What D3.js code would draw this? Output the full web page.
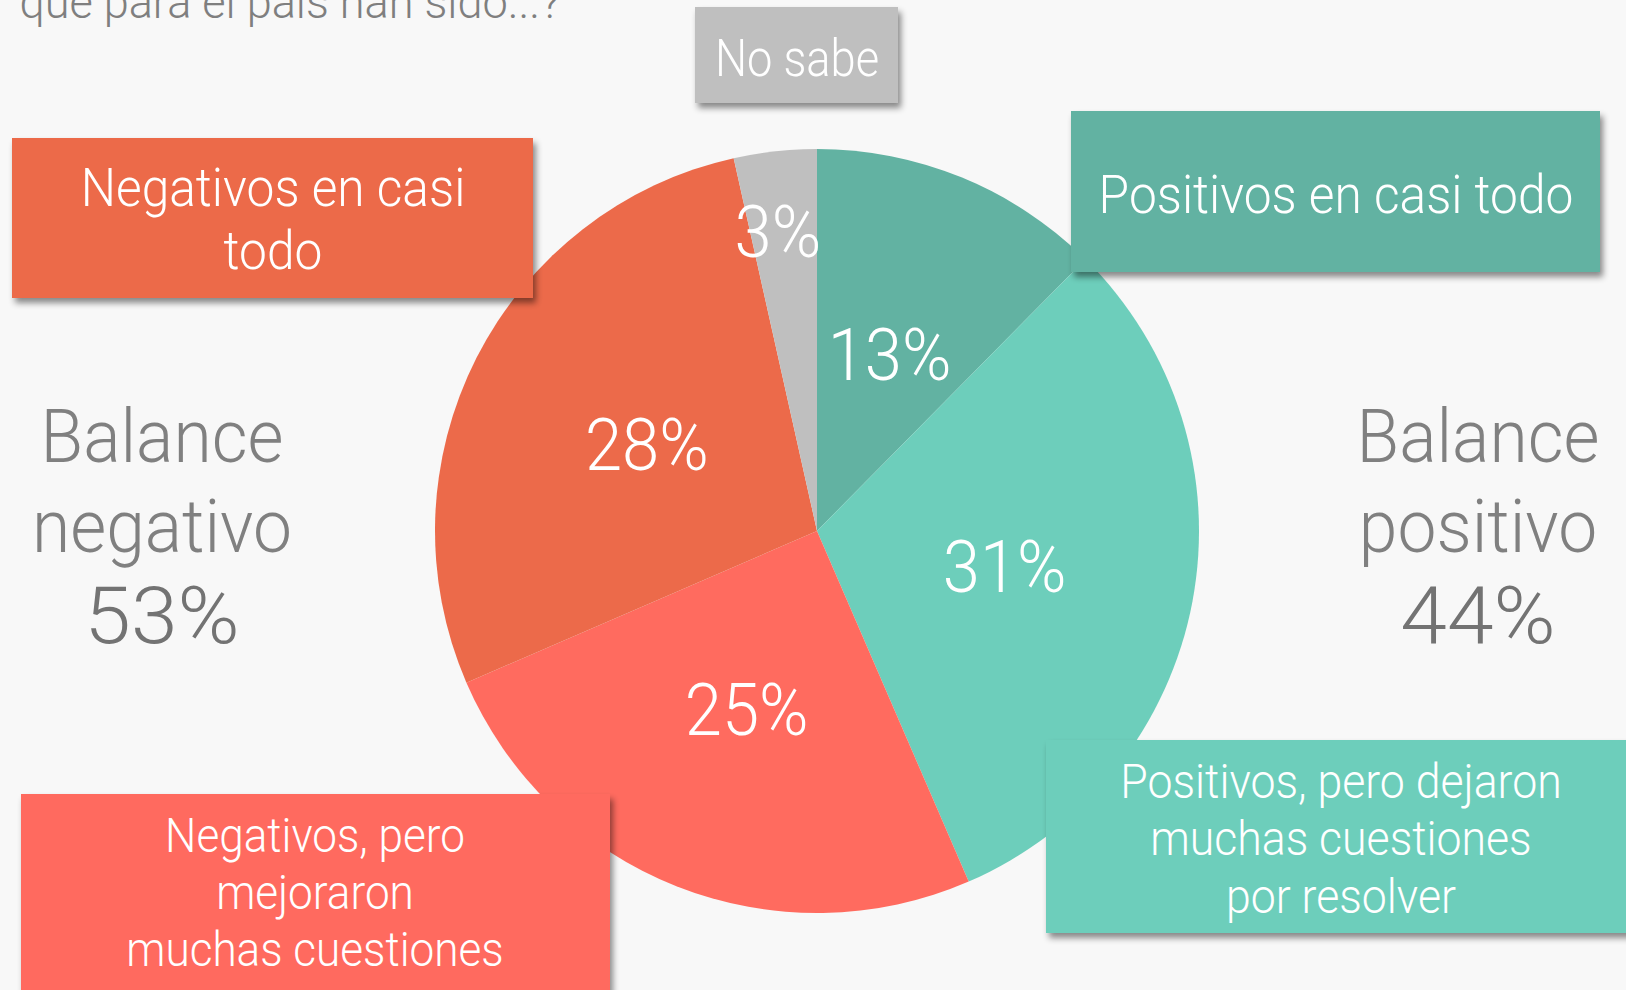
<!DOCTYPE html>
<html>
<head>
<meta charset="utf-8">
<script src="https://cdnjs.cloudflare.com/ajax/libs/d3/7.8.5/d3.min.js"></script>
<style>
  html, body { margin: 0; padding: 0; background: #f8f8f8; }
  svg { display: block; }
  text { font-family: Roboto, "Open Sans", sans-serif; font-weight: 300; }
</style>
</head>
<body>
<div id="chart"></div>
<script>
// data
var categories = ["Positivos en casi todo", "Positivos, pero dejaron muchas cuestiones por resolver",
  "Negativos, pero mejoraron muchas cuestiones", "Negativos en casi todo", "No sabe"];
var values = [12.4, 31.1, 25.0, 28.0, 3.5];
var pctLabels = ["13%", "31%", "25%", "28%", "3%"];
var balanceNames = [["Balance", "negativo"], ["Balance", "positivo"]];
var balanceValues = ["53%", "44%"];
var subtitle = "que para el país han sido...?";

var colors = ["#62b2a2", "#6dcebb", "#ff6b5f", "#ec6a4a", "#bfbfbf"];

var width = 1626, height = 990;
var cx = 817, cy = 531, radius = 382;

// box layout for each category (same order as categories)
var boxes = [
  {x: 1071, y: 111, w: 529, h: 161, tx: 1336, lines: ["Positivos en casi todo"], base: [213], size: 54, sx: 0.92},
  {x: 1046, y: 740, w: 600, h: 193, tx: 1341, lines: ["Positivos, pero dejaron", "muchas cuestiones", "por resolver"], base: [798, 855, 913], size: 49, sx: 0.91},
  {x: 21, y: 794, w: 589, h: 230, tx: 315, lines: ["Negativos, pero", "mejoraron", "muchas cuestiones"], base: [852, 909, 966], size: 49, sx: 0.9},
  {x: 12, y: 138, w: 521, h: 160, tx: 273, lines: ["Negativos en casi", "todo"], base: [206, 269], size: 54, sx: 0.92},
  {x: 695, y: 7, w: 203, h: 96, tx: 797, lines: ["No sabe"], base: [76], size: 52, sx: 0.87}
];

var svg = d3.select("#chart").append("svg")
  .attr("width", width)
  .attr("height", height);

svg.append("rect").attr("width", width).attr("height", height).attr("fill", "#f8f8f8");

var filter = svg.append("defs").append("filter")
  .attr("id", "shadow")
  .attr("x", "-10%").attr("y", "-10%")
  .attr("width", "130%").attr("height", "140%");
filter.append("feDropShadow")
  .attr("dx", 3).attr("dy", 5)
  .attr("stdDeviation", 3)
  .attr("flood-color", "#000")
  .attr("flood-opacity", 0.45);

// the reference face is condensed, so squeeze each text horizontally
function squeezedText(parent, x, y, str, size, fill, sx, weight) {
  parent.append("text")
    .attr("transform", "translate(" + x + "," + y + ") scale(" + sx + ",1)")
    .attr("text-anchor", "middle")
    .attr("font-size", size)
    .attr("fill", fill)
    .style("font-weight", weight || 300)
    .text(str);
}

// subtitle, mostly cut off by the top edge (as in the original)
squeezedText(svg, 290, 18, subtitle, 46, "#7f7f7f", 0.98);

// pie
var pie = d3.pie().sort(null).value(function(d) { return d; });
var arc = d3.arc().innerRadius(0).outerRadius(radius);
var arcs = pie(values);

var g = svg.append("g").attr("transform", "translate(" + cx + "," + cy + ")");
g.selectAll("path")
  .data(arcs)
  .enter().append("path")
  .attr("d", arc)
  .attr("fill", function(d, i) { return colors[i]; });

var labelArc = d3.arc().innerRadius(radius * 0.5).outerRadius(radius * 0.5);
var outerLabelArc = d3.arc().innerRadius(radius * 0.79).outerRadius(radius * 0.79);
arcs.forEach(function(d, i) {
  var c = (values[i] < 5 ? outerLabelArc : labelArc).centroid(d);
  var dx = values[i] < 5 ? -6 : 0;
  squeezedText(g, c[0] + dx, c[1] + 26, pctLabels[i], 72, "#ffffff", 0.93);
});

// category boxes
boxes.forEach(function(b, i) {
  var bg = svg.append("g");
  bg.append("rect")
    .attr("x", b.x).attr("y", b.y)
    .attr("width", b.w).attr("height", b.h)
    .attr("fill", colors[i])
    .attr("filter", "url(#shadow)");
  b.lines.forEach(function(line, j) {
    squeezedText(bg, b.tx, b.base[j], line, b.size, "#ffffff", b.sx);
  });
});

// balance totals
var balanceX = [162, 1478];
balanceNames.forEach(function(lines, i) {
  squeezedText(svg, balanceX[i], 462, lines[0], 74, "#808080", 0.94);
  squeezedText(svg, balanceX[i], 552, lines[1], 74, "#808080", 0.94);
  squeezedText(svg, balanceX[i], 643, balanceValues[i], 80, "#737373", 1.05);
});
</script>
</body>
</html>
